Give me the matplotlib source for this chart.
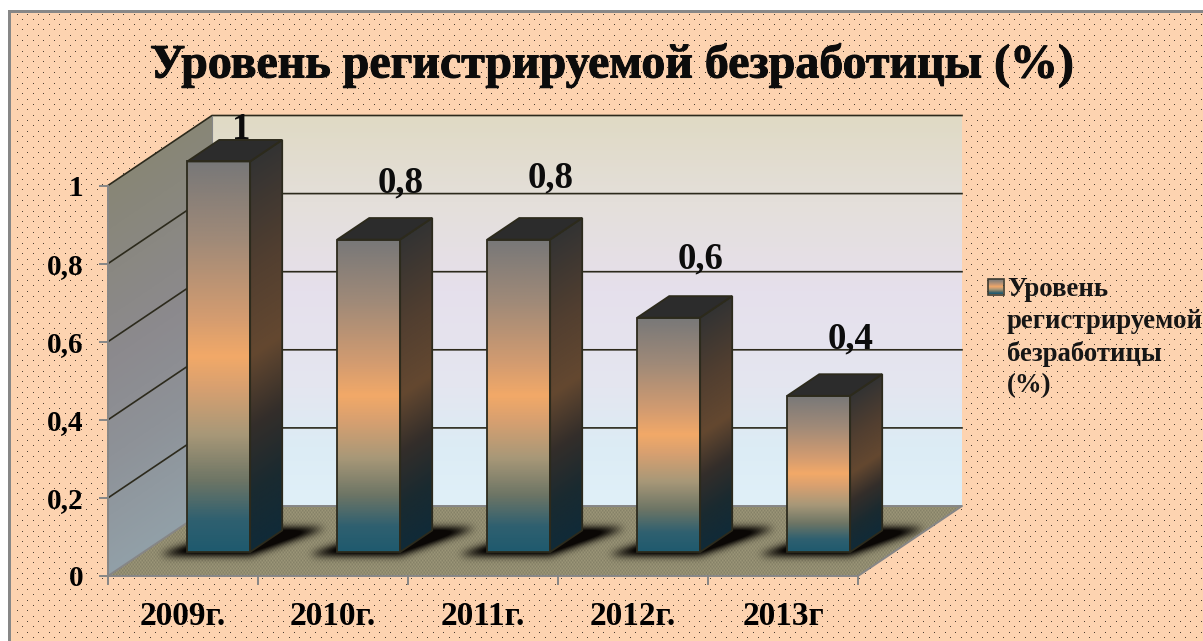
import numpy as np
import matplotlib
matplotlib.use("Agg")
import matplotlib.pyplot as plt
import matplotlib.patheffects as pe
from matplotlib.colors import LinearSegmentedColormap
from matplotlib.patches import Polygon
from matplotlib.path import Path

years = ["2009г.", "2010г.", "2011г.", "2012г.", "2013г"]
values = [1, 0.8, 0.8, 0.6, 0.4]
value_labels = ["1", "0,8", "0,8", "0,6", "0,4"]
y_ticks = [0, 0.2, 0.4, 0.6, 0.8, 1]
y_tick_labels = ["0", "0,2", "0,4", "0,6", "0,8", "1"]
title = "Уровень регистрируемой безработицы (%)"
legend_text = "Уровень\nрегистрируемой\nбезработицы\n(%)"

W, H = 1203, 641
DX = 104 / 150     # depth shift in category units
DY = 70 / 390.5    # depth shift in value units
SLOPE = DY / DX
FRONT, BACK = 0.343, 0.651
HALF = 0.21
LINE = "#2c2a1c"
GRAY = "#868686"
label_shift = [(-10, 1), (0, 26), (0, 31), (0, 28), (0, 26)]

plt.rcParams["font.family"] = ["Liberation Serif", "DejaVu Serif"]
plt.rcParams["font.weight"] = "bold"


def cmap(stops):
    return LinearSegmentedColormap.from_list("c", stops, N=256)


front_cm = cmap([(0, "#1f5a6e"), (0.08, "#2f6070"), (0.18, "#6d7565"), (0.3, "#a89878"),
                 (0.42, "#d8a070"), (0.5, "#f2a968"), (0.6, "#d49c70"), (0.8, "#a08a78"), (1, "#787878")])
side_cm = cmap([(0, "#102a38"), (0.15, "#1a2a30"), (0.32, "#342e2a"), (0.5, "#644830"),
                (0.72, "#523f30"), (1, "#333333")])
wall_cm = cmap([(0, "#e0f0f8"), (0.15, "#dcecf5"), (0.3, "#e4e6f0"), (0.55, "#e6e0ec"),
                (0.78, "#e4dfda"), (1, "#e0dac4")])
left_cm = cmap([(0, "#92a0a8"), (0.3, "#8e9298"), (0.55, "#8c8a8e"), (1, "#888676")])


def proj(cat, val, depth):
    return cat + depth * DX, val + depth * DY


def face(ax, corners, cm, bottom, height, zorder, slanted=False):
    # gradient image clipped to a polygon, all in data units
    pts = np.array(corners)
    x0, x1 = pts[:, 0].min(), pts[:, 0].max()
    y0, y1 = pts[:, 1].min(), pts[:, 1].max()
    xs = np.linspace(x0, x1, 80)
    ys = np.linspace(y0, y1, 400)
    gx, gy = np.meshgrid(xs, ys)
    t = gy - bottom
    if slanted:
        t = t - (gx - x0) * SLOPE
    im = ax.imshow(np.clip(t / height, 0, 1), cmap=cm, vmin=0, vmax=1, origin="lower",
                   extent=(x0, x1, y0, y1), aspect="auto", interpolation="bilinear", zorder=zorder)
    im.set_clip_box(fig.bbox)
    im.set_clip_path(Polygon(pts, transform=ax.transData))


def blur(a, r):
    k = np.exp(-0.5 * (np.arange(-3 * r, 3 * r + 1) / r) ** 2)
    k /= k.sum()
    a = np.apply_along_axis(lambda m: np.convolve(m, k, mode="same"), 0, a)
    return np.apply_along_axis(lambda m: np.convolve(m, k, mode="same"), 1, a)


fig = plt.figure(figsize=(W / 100, H / 100), dpi=100, facecolor="white")

# dotted peach background with the chart frame
bg = fig.add_axes([0, 0, 1, 1], zorder=0)
paper = np.ones((H, W, 3)) * np.array([253, 211, 176]) / 255
for j, yy in enumerate(np.arange(14, H, 5.33)):
    for xx in np.arange(17 + (j % 2) * 5.33, W, 10.67):
        paper[int(yy), int(xx)] = (0.3, 0.25, 0.2)
paper[:13, :] = (0.53, 0.53, 0.53)
paper[:, :11] = (0.53, 0.53, 0.53)
paper[:10, :] = 1
paper[:, :8] = 1
bg.imshow(paper, extent=(0, W, H, 0), aspect="auto", interpolation="nearest")
bg.set_xlim(0, W)
bg.set_ylim(H, 0)
bg.axis("off")

heavy = [pe.withStroke(linewidth=0.7, foreground="#0c0c0c")]
bg.text(612, 65, title, fontsize=34.5, ha="center", va="center", color="#0c0c0c", path_effects=heavy)
bg.imshow(np.linspace(1, 0, 50).reshape(-1, 1), cmap=front_cm, extent=(988, 1003, 294, 279),
          aspect="auto", zorder=3)
bg.add_patch(Polygon([(987.5, 278.5), (1003.5, 278.5), (1003.5, 294.5), (987.5, 294.5)],
                     fill=False, ec="#3a3a30", lw=1.2, zorder=4))
bg.set_xlim(0, W)
bg.set_ylim(H, 0)
bg.text(1007, 277, legend_text, fontsize=19.3, va="top", ha="left", linespacing=1.35, color="#161616")

# chart axes: x in categories, y in values, its frame is the front plane
ax = fig.add_axes([108 / W, (H - 576) / H, 750 / W, 390.5 / H], zorder=1)
ax.patch.set_alpha(0)
n = len(years)

wall = [proj(0, 0, 1), proj(n, 0, 1), proj(n, 1, 1), proj(0, 1, 1)]
face(ax, wall, wall_cm, DY, 1, 1)
left = [proj(0, 0, 0), proj(0, 0, 1), proj(0, 1, 1), proj(0, 1, 0)]
face(ax, left, left_cm, 0, 1, 1, slanted=True)

# floor texture and blurred bar shadows
floor = [proj(0, 0, 0), proj(n, 0, 0), proj(n, 0, 1), proj(0, 0, 1)]
fx = np.linspace(0, n + DX, 854)
fy = np.linspace(0, DY, 70)
gx, gy = np.meshgrid(fx, fy)
rows, cols = np.indices(gx.shape)
tex = 1 + 0.09 * np.sin(cols * np.pi / 1.5) * np.sin(rows * np.pi / 2.0)
floor_img = np.ones(gx.shape + (3,)) * np.array([145, 140, 112]) / 255
floor_img = np.clip(floor_img * tex[..., None], 0, 1)
pts = np.c_[gx.ravel(), gy.ravel()]
shade = np.zeros(gx.shape)
for i in range(n):
    c = i + 0.5
    s = [proj(c - HALF - 0.16, 0, FRONT - 0.05), proj(c + HALF + 0.03, 0, FRONT - 0.05),
         proj(c + HALF + 0.26, 0, BACK + 0.04), proj(c - HALF + 0.1, 0, BACK + 0.04)]
    shade[Path(s).contains_points(pts).reshape(gx.shape)] = 1
shade = np.clip(blur(shade, 4) * 1.4, 0, 1)
floor_img = floor_img * (1 - shade[..., None]) + np.array([0.04, 0.03, 0.02]) * shade[..., None]
im = ax.imshow(floor_img, origin="lower", extent=(0, n + DX, 0, DY), aspect="auto",
               interpolation="bilinear", zorder=2)
im.set_clip_box(fig.bbox)
im.set_clip_path(Polygon(floor, transform=ax.transData))

# grid on both walls
for v in y_ticks[1:]:
    ax.plot(*zip(proj(0, v, 0), proj(0, v, 1), proj(n, v, 1)), color=LINE, lw=1.2, zorder=3, clip_on=False)
ax.plot(*zip(proj(0, 0, 0), proj(0, 0, 1), proj(n, 0, 1), proj(n, 0, 0)), color=GRAY, lw=1.4, zorder=3, clip_on=False)
ax.plot(*zip(proj(0, 0, 1), proj(0, 1, 1)), color=GRAY, lw=0.8, zorder=3, clip_on=False)

# bars
for i, v in enumerate(values):
    c = i + 0.5
    l, r = c - HALF, c + HALF
    fr = [proj(l, 0, FRONT), proj(r, 0, FRONT), proj(r, v, FRONT), proj(l, v, FRONT)]
    sd = [proj(r, 0, FRONT), proj(r, 0, BACK), proj(r, v, BACK), proj(r, v, FRONT)]
    tp = [proj(l, v, FRONT), proj(r, v, FRONT), proj(r, v, BACK), proj(l, v, BACK)]
    base = FRONT * DY
    face(ax, sd, side_cm, base, v, 5, slanted=True)
    face(ax, fr, front_cm, base, v, 5)
    ax.add_patch(Polygon(tp, fc="#2c2c2c", ec=LINE, lw=1.3, zorder=6, clip_on=False))
    ax.add_patch(Polygon(sd, fill=False, ec=LINE, lw=1.3, zorder=6, clip_on=False))
    ax.add_patch(Polygon(fr, fill=False, ec=LINE, lw=1.3, zorder=6, clip_on=False))
    sx, sy = label_shift[i]
    ax.annotate(value_labels[i], xy=proj(c, v, BACK), xytext=(sx * 0.72, sy * 0.72),
                textcoords="offset points", ha="center", va="baseline", fontsize=26.5,
                color="#0c0c0c", zorder=8, annotation_clip=False)

ax.set_xlim(0, n)
ax.set_ylim(0, 1)
ax.set_xticks(range(n + 1))
ax.set_xticklabels([])
ax.set_xticks([i + 0.5 for i in range(n)], labels=years, minor=True)
ax.set_yticks(y_ticks, labels=y_tick_labels)
ax.tick_params(axis="x", which="major", length=6.5, width=1.4, color=GRAY)
ax.tick_params(axis="x", which="minor", length=0, pad=18, labelsize=24)
ax.tick_params(axis="y", length=6.5, width=1.4, color=GRAY, pad=11, labelsize=21)
for lab in ax.get_yticklabels():
    lab.set_verticalalignment("center_baseline")
for side in ("top", "right"):
    ax.spines[side].set_visible(False)
for side in ("left", "bottom"):
    ax.spines[side].set_color(GRAY)
    ax.spines[side].set_linewidth(1.4)
    ax.spines[side].set_zorder(7)

fig.savefig("out.png", dpi=100, facecolor="white")
